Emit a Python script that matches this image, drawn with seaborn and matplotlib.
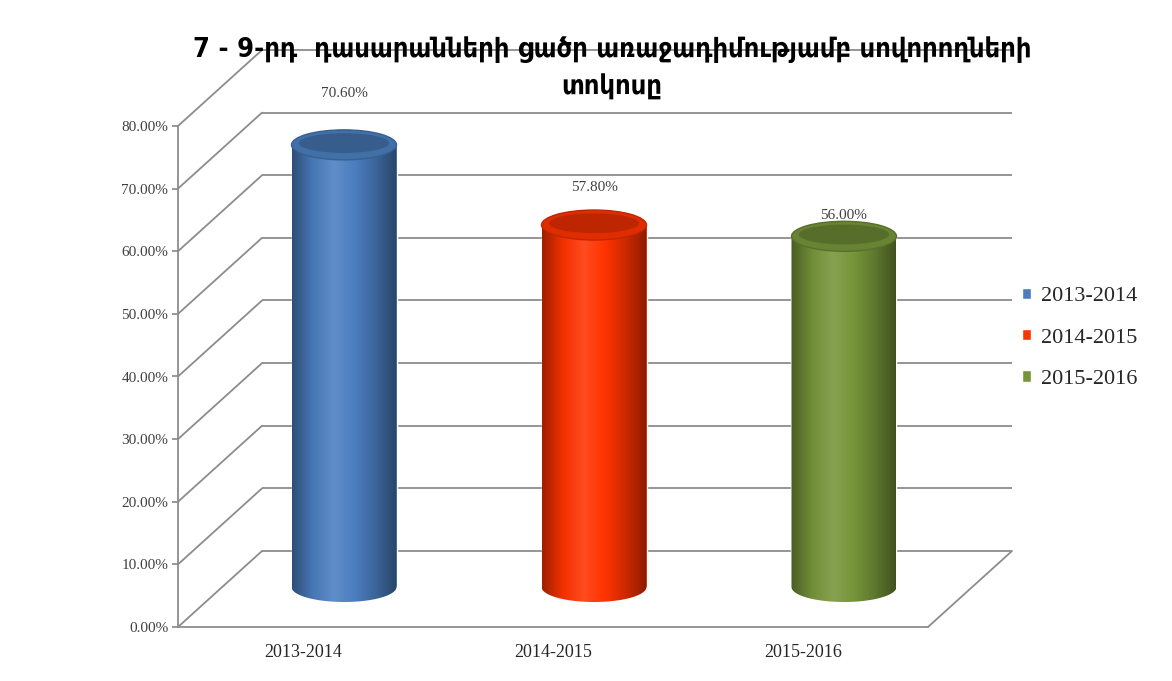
import numpy as np
import pandas as pd
import seaborn as sns
import matplotlib.pyplot as plt
from matplotlib.patches import Ellipse, Polygon
from matplotlib.colors import LinearSegmentedColormap, to_rgb

# Chart data
years = ['2013-2014', '2014-2015', '2015-2016']
percent = [70.60, 57.80, 56.00]
y_ticks = [0, 10, 20, 30, 40, 50, 60, 70, 80]
title_lines = ['7 - 9-րդ  դասարանների ցածր առաջադիմությամբ սովորողների', 'տոկոսը']

# Colors / label offsets (points above the cylinder top)
body_colors = ['#4a7ebf', '#ff3300', '#76953a']
label_pad = [32, 22, 10]

sns.set_theme(style='white')
plt.rcParams['font.family'] = ['Liberation Serif', 'DejaVu Sans']

W, H = 1172, 681
fig = plt.figure(figsize=(W / 100, H / 100), dpi=100)
fig.patch.set_facecolor('white')


def shade(c, f):
    r, g, b = to_rgb(c)
    if f <= 1:
        return (r * f, g * f, b * f)
    f = f - 1
    return (r + (1 - r) * f, g + (1 - g) * f, b + (1 - b) * f)


def px_axes(left, top, right, bottom):
    return fig.add_axes([left / W, 1 - bottom / H, (right - left) / W, (bottom - top) / H])


# Pixel frame of the front plane (0% .. 80%), and the depth shifts
fl, ft, fr, fb = 178, 126, 928, 627
px_unit = (fb - ft) / 80
back_dx, back_dy = 84, 76
mid_dx, mid_dy = 41, 40
mid_below = 10  # extra room under 0 so the round bottoms are not clipped

ax_back = px_axes(fl + back_dx, ft - back_dy, fr + back_dx, fb - back_dy)
ax_mid = px_axes(fl + mid_dx, ft - mid_dy, fr + mid_dx, fb - mid_dy + mid_below * px_unit)
ax_front = px_axes(fl, ft, fr, fb)

for a in (ax_back, ax_mid, ax_front):
    a.set_facecolor('none')

grid_color = '#8c8c8c'

# Back wall gridlines
ax_back.hlines(y_ticks, -0.5, 2.5, color=grid_color, lw=1.3, clip_on=False)
ax_back.set_xlim(-0.5, 2.5)
ax_back.set_ylim(0, 80)
ax_back.axis('off')

# Bars (cylinders) in the middle plane
df = pd.DataFrame({'year': years, 'percent': percent})
sns.barplot(data=df, x='year', y='percent', hue='year', palette=body_colors,
            saturation=1, width=0.42, ax=ax_mid, legend=True)
ax_mid.axis('off')

eh = 30 / px_unit  # ellipse height in data units
grad = np.linspace(0, 1, 256).reshape(1, -1)
for cont, body, pad in zip(ax_mid.containers, body_colors, label_pad):
    patch = cont[0]
    x0, w, h = patch.get_x(), patch.get_width(), patch.get_height()
    cx = x0 + w / 2
    t = np.linspace(np.pi, 2 * np.pi, 60)
    arc = np.column_stack([cx + w / 2 * np.cos(t), eh / 2 * np.sin(t)])
    outline = np.vstack([[x0, h], arc, [x0 + w, h]])
    clip = Polygon(outline, closed=True, transform=ax_mid.transData)
    cmap = LinearSegmentedColormap.from_list(
        'cyl', [shade(body, 0.62), shade(body, 0.95), shade(body, 1.12),
                body, shade(body, 0.8), shade(body, 0.55)])
    im = ax_mid.imshow(grad, cmap=cmap, extent=[x0, x0 + w, -eh / 2 - 1, h],
                       aspect='auto', interpolation='bicubic', zorder=3)
    im.set_clip_path(clip)
    ax_mid.add_patch(Ellipse((cx, h), w, eh, facecolor=shade(body, 0.88),
                             edgecolor=shade(body, 0.75), lw=1.0, zorder=4))
    ax_mid.add_patch(Ellipse((cx, h + eh * 0.06), w * 0.86, eh * 0.66,
                             facecolor=shade(body, 0.74), edgecolor='none', zorder=5))
    ax_mid.annotate(f'{h:.2f}%', (cx, h), xytext=(0, pad), textcoords='offset points',
                    ha='center', va='bottom', fontsize=11, color='#404040', zorder=6)

ax_mid.set_xlim(-0.5, 2.5)
ax_mid.set_ylim(-mid_below, 80)

sns.move_legend(ax_mid, 'center left', bbox_to_anchor=(1002 / W, 1 - 338 / H),
                bbox_transform=fig.transFigure, frameon=False, title=None,
                prop={'family': 'Liberation Serif', 'size': 16},
                handlelength=0.42, handleheight=0.42, handletextpad=0.45,
                labelspacing=1.0)

# Front plane: axes, tick labels
ax_front.set_xlim(-0.5, 2.5)
ax_front.set_ylim(0, 80)
ax_front.set_xticks(range(len(years)))
ax_front.set_xticklabels(years)
ax_front.set_xticks([0.5, 1.5, 2.5], minor=True)
ax_front.set_yticks(y_ticks)
ax_front.set_yticklabels([f'{v:.2f}%' for v in y_ticks])
ax_front.tick_params(axis='x', which='major', length=0, pad=12, labelsize=13, labelcolor='#262626')
ax_front.tick_params(axis='x', which='minor', length=5, color=grid_color, direction='out')
ax_front.tick_params(axis='y', length=4, color=grid_color, direction='out', pad=3,
                     labelsize=11, labelcolor='#404040', left=True)
for s in ('top', 'right'):
    ax_front.spines[s].set_visible(False)
for s in ('left', 'bottom'):
    ax_front.spines[s].set_color(grid_color)
    ax_front.spines[s].set_linewidth(1.3)

# Side wall / floor diagonals from front plane to back wall
to_front = ax_front.transData.inverted()
diag_pts = [(-0.5, v) for v in y_ticks] + [(2.5, 0)]
for x, y in diag_pts:
    bx, by = to_front.transform(ax_back.transData.transform((x, y)))
    ax_front.plot([x, bx], [y, by], color=grid_color, lw=1.3, clip_on=False)

# Title, one text per line
for line, ty in zip(title_lines, [50, 88]):
    fig.text(612 / W, 1 - ty / H, line, ha='center', va='center', fontsize=19.5,
             fontweight='bold', family=['DejaVu Sans'], fontstretch='condensed',
             color='black')

fig.savefig('out.png', dpi=100, facecolor='white')
